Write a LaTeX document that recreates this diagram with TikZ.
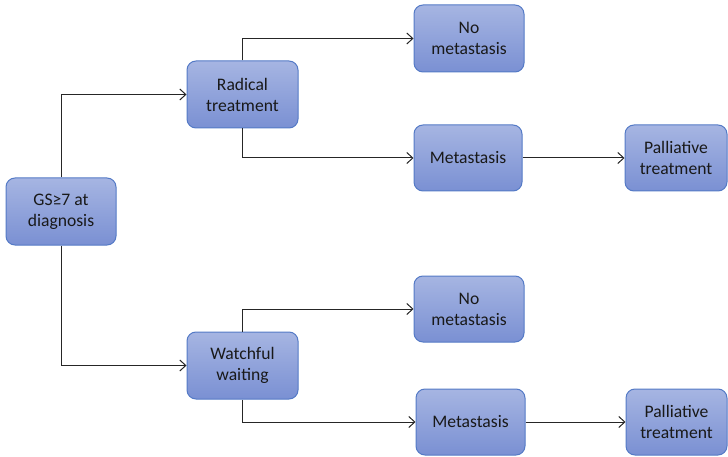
\documentclass[tikz,border=0pt]{standalone}
\usepackage{fontspec}
\setmainfont{Carlito}
\usetikzlibrary{arrows.meta}
\definecolor{boxtop}{RGB}{166,181,226}
\definecolor{boxbot}{RGB}{122,144,211}
\definecolor{boxline}{RGB}{84,122,198}
\begin{document}
\begin{tikzpicture}[x=1pt,y=-1pt,
  box/.style={draw=boxline, line width=1pt, rounded corners=9pt, top color=boxtop, bottom color=boxbot,
    align=center, inner sep=0pt, font=\fontsize{17.6}{21}\selectfont, text=black!90},
  conn/.style={draw=black!85, line width=1pt, -{Straight Barb[length=6pt,width=11pt]}}]
\useasboundingbox (0,0) rectangle (728,457);
\node[box, minimum width=110pt, minimum height=67pt] (gs) at (61,211.5) {GS≥7 at\\diagnosis};
\node[box, minimum width=111pt, minimum height=67pt] (rad) at (242.5,94.5) {Radical\\treatment};
\node[box, minimum width=111pt, minimum height=67pt] (ww) at (242.5,365.5) {Watchful\\waiting};
\node[box, minimum width=110pt, minimum height=67pt] (nm1) at (469,38.5) {No\\metastasis};
\node[box, minimum width=108pt, minimum height=66pt] (m1) at (468,158) {Metastasis};
\node[box, minimum width=102pt, minimum height=66pt] (p1) at (676,158) {Palliative\\treatment};
\node[box, minimum width=110pt, minimum height=66pt] (nm2) at (469,309) {No\\metastasis};
\node[box, minimum width=109pt, minimum height=66pt] (m2) at (470.5,422) {Metastasis};
\node[box, minimum width=101pt, minimum height=66pt] (p2) at (676.5,422) {Palliative\\treatment};
\draw[conn] (gs.north) |- (rad.west);
\draw[conn] (gs.south) |- (ww.west);
\draw[conn] (rad.north) |- (nm1.west);
\draw[conn] (rad.south) |- (m1.west);
\draw[conn] (ww.north) |- (nm2.west);
\draw[conn] (ww.south) |- (m2.west);
\draw[conn] (m1.east) -- (p1.west);
\draw[conn] (m2.east) -- (p2.west);
\end{tikzpicture}
\end{document}
